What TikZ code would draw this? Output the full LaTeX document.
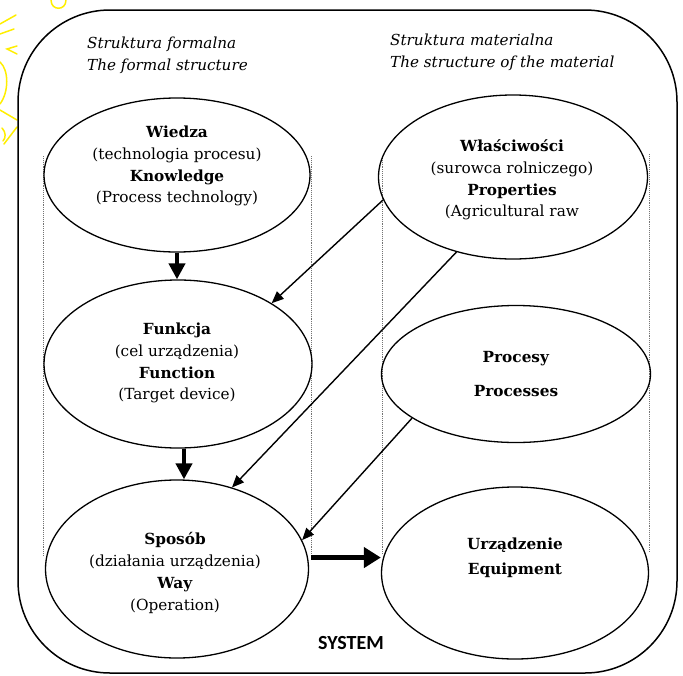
\documentclass[tikz,border=0pt]{standalone}
\usepackage{fontspec}
\setmainfont{DejaVu Serif}
\newfontfamily\sysfont{Carlito}
\usetikzlibrary{shapes.geometric,arrows.meta,calc}
\definecolor{doodle}{RGB}{255,238,0}
\begin{document}
\begin{tikzpicture}[x=1pt,y=-1pt,
  oval/.style n args={2}{ellipse,draw,line width=1.3pt,inner sep=0pt,
    minimum width=#1,minimum height=#2},
  txt/.style={align=center,inner sep=0pt,font=\fontsize{15.3}{21.8}\selectfont},
  hdr/.style={align=left,inner sep=0pt,anchor=west,
    font=\itshape\fontsize{15.2}{22}\selectfont},
  guide/.style={densely dotted,black!55,line width=0.9pt},
  thin/.style={line width=1.4pt,-{Triangle[length=12pt,width=10pt]}},
  heavy/.style={line width=4pt,-{Triangle[length=16pt,width=16pt]}},
  heavier/.style={line width=5pt,-{Triangle[length=17pt,width=20pt]}}]
\useasboundingbox (0,0) rectangle (683,675);

% sketch strokes in the upper left corner
\begin{scope}[doodle,line width=1.5pt,line cap=round]
  \draw (51,0) .. controls (51,11) and (66,11) .. (66,0);
  \draw (0,24) -- (16,15);
  \draw (0,34) -- (14,29);
  \draw (17,46) -- (7,49) -- (17,54);
  \draw (0,62) .. controls (9,70) and (9,92) .. (0,104);
  \draw (0,110) -- (17,120);
  \draw (17,127) -- (4,144);
  \draw (2,128) .. controls (6,132) and (6,138) .. (3,141);
\end{scope}

% outer system boundary
\draw[line width=1.5pt,rounded corners=92pt] (18,10) rectangle (677,673);

% column guides
\draw[guide] (43,156) -- (43,556);
\draw[guide] (311,156) -- (311,556);
\draw[guide] (382,156) -- (382,554);
\draw[guide] (649,154) -- (649,552);

% column headings
\node[hdr] (hl) at (87,55) {Struktura formalna\\The formal structure};
\node[hdr] (hr) at (390,52) {Struktura materialna\\The structure of the material};

% formal structure
\node[oval={266pt}{154pt}] (wi) at (177,175) {};
\node[oval={268pt}{168pt}] (fu) at (178,364) {};
\node[oval={263pt}{178pt}] (sp) at (177,569) {};
% material structure
\node[oval={269pt}{164pt}] (wl) at (513,177) {};
\node[oval={269pt}{137pt}] (pr) at (516,374) {};
\node[oval={267pt}{172pt}] (ur) at (515,573) {};

\node[txt] (wiT) at (177,166) {\textbf{Wiedza}\\(technologia procesu)\\\textbf{Knowledge}\\(Process technology)};
\node[txt] (fuT) at (177,363) {\textbf{Funkcja}\\(cel urządzenia)\\\textbf{Function}\\(Target device)};
\node[txt] (spT) at (175,573) {\textbf{Sposób}\\(działania urządzenia)\\\textbf{Way}\\(Operation)};
\node[txt] (wlT) at (512,180) {\textbf{Właściwości}\\(surowca rolniczego)\\\textbf{Properties}\\(Agricultural raw};
\node[txt,font=\fontsize{15.3}{34}\selectfont] (prT) at (516,374) {\textbf{Procesy}\\\textbf{Processes}};
\node[txt,font=\fontsize{15.3}{25}\selectfont] (urT) at (515,558) {\textbf{Urządzenie}\\\textbf{Equipment}};

\node[inner sep=0pt,font=\sysfont\bfseries\fontsize{20}{20}\selectfont] (sys) at (351,643) {SYSTEM};

% connectors
\draw[heavy] (wi.south) -- (wi.south |- fu.north);
\draw[heavy] ([xshift=6pt]fu.south) -- ([xshift=6pt]fu.south |- sp.north);
\draw[heavier] ([xshift=3pt]sp.5) -- (ur.west |- sp.5);
\draw[thin] (wl.190) -- (fu.33);
\draw[thin] (wl.233) -- (sp.56);
\draw[thin] (pr.203) -- (sp.13);
\end{tikzpicture}
\end{document}
